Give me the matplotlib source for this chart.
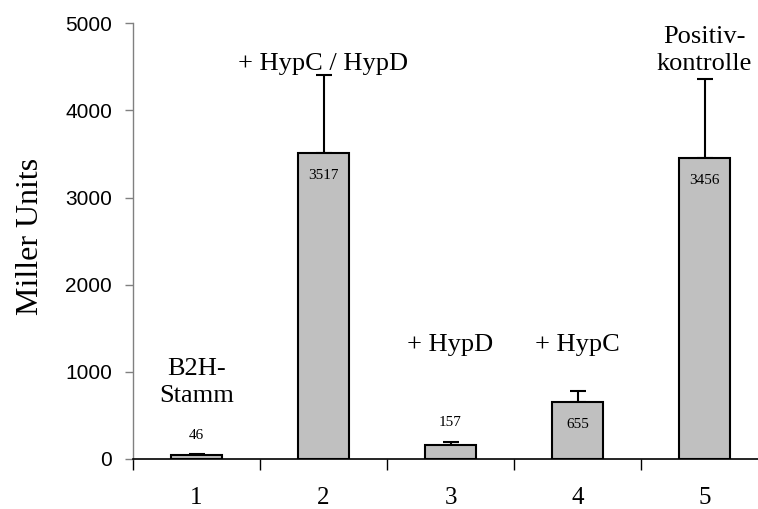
import matplotlib
matplotlib.use('Agg')
import matplotlib.pyplot as plt

# data
positions = [1, 2, 3, 4, 5]
tick_labels = ['1', '2', '3', '4', '5']
values = [46, 3517, 157, 655, 3456]
errors = [6, 890, 42, 125, 900]
value_texts = ['46', '3517', '157', '655', '3456']
group_names = ['B2H-\nStamm', '+ HypC / HypD', '+ HypD', '+ HypC', 'Positiv-\nkontrolle']
name_y = [654, 4466, 1240, 1240, 4466]   # baseline of the last line
value_inside = [False, True, False, True, True]

serif = ['Times New Roman', 'Liberation Serif', 'DejaVu Serif']
sans = ['Arial', 'Liberation Sans', 'DejaVu Sans']

fig = plt.figure(figsize=(7.58, 5.09), dpi=100)
ax = fig.add_axes([133 / 758, 1 - 459 / 509, 635 / 758, (459 - 23.3) / 509])

ax.bar(positions, values, width=0.4, color='#c0c0c0', edgecolor='black',
       linewidth=1.5, zorder=2)
ax.errorbar(positions, values, yerr=[[0] * 5, errors], fmt='none',
            ecolor='black', elinewidth=1.5, capsize=6, capthick=1.5, zorder=1)

for x, v, e, t, inside in zip(positions, values, errors, value_texts, value_inside):
    if inside:
        ax.text(x, v - 300, t, ha='center', va='baseline', fontsize=11,
                family=serif)
    else:
        ax.text(x, v + e + 180, t, ha='center', va='baseline', fontsize=11,
                family=serif)

for x, name, y in zip(positions, group_names, name_y):
    lines = name.split('\n')
    # draw line by line so the last line sits on the given baseline
    for k, line in enumerate(reversed(lines)):
        ax.text(x, y + k * 310, line, ha='center', va='baseline', fontsize=19,
                family=serif)

ax.set_xlim(0.5, 5.5)
ax.set_ylim(0, 5000)
ax.set_yticks([0, 1000, 2000, 3000, 4000, 5000])
ax.set_yticklabels(['0', '1000', '2000', '3000', '4000', '5000'],
                   fontsize=15, family=sans)
ax.set_xticks(positions)
ax.set_xticklabels(tick_labels, fontsize=18, family=serif)
ax.set_xticks([0.5, 1.5, 2.5, 3.5, 4.5, 5.5], minor=True)
ax.tick_params(axis='x', which='major', length=0, pad=20)
ax.tick_params(axis='x', which='minor', length=8, width=1, color='black',
               direction='out')
ax.tick_params(axis='y', length=6, width=1, color='#808080', pad=9)

ax.set_ylabel('Miller Units', fontsize=23, family=serif)
ax.yaxis.set_label_coords(-0.139, 0.51)

for s in ['top', 'right']:
    ax.spines[s].set_visible(False)
ax.spines['left'].set_color('#808080')
ax.spines['left'].set_linewidth(1)
ax.spines['bottom'].set_color('black')
ax.spines['bottom'].set_linewidth(1.2)

fig.savefig('out.png', dpi=100, facecolor='white')
